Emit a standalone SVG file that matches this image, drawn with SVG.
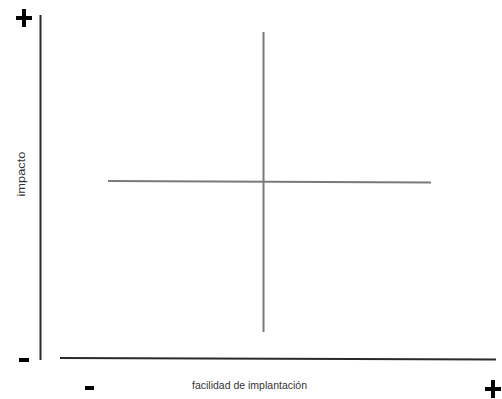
<svg xmlns="http://www.w3.org/2000/svg" width="502" height="399" viewBox="0 0 502 399">
<style>
.axis{stroke:#2a2a2a;stroke-width:2;fill:none}
.cross{stroke:#7a7a7a;stroke-width:2;fill:none}
.sign{fill:#000}
.lbl{font-family:"Liberation Sans",Arial,sans-serif;font-size:10.5px;fill:#333}
</style>
<rect width="502" height="399" fill="#fff"/>
<g id="axes">
<line class="axis" x1="40.5" y1="15" x2="40.5" y2="360"/>
<line class="axis" x1="60" y1="358" x2="496" y2="359.5"/>
</g>
<g id="cross">
<line class="cross" x1="108" y1="181" x2="431" y2="182.5"/>
<line class="cross" x1="263.5" y1="32" x2="263.5" y2="332"/>
</g>
<g id="signs">
<rect class="sign" x="16" y="16" width="16" height="4"/>
<rect class="sign" x="22" y="9" width="4" height="18"/>
<rect class="sign" x="19" y="358" width="10" height="4"/>
<rect class="sign" x="85" y="386" width="9" height="4"/>
<rect class="sign" x="485" y="387" width="16" height="4"/>
<rect class="sign" x="491" y="380" width="4" height="18"/>
</g>
<g id="labels">
<text class="lbl" transform="translate(24.5,174) rotate(-90)" text-anchor="middle" textLength="45" lengthAdjust="spacingAndGlyphs">impacto</text>
<text class="lbl" x="249.5" y="388.5" text-anchor="middle" textLength="115" lengthAdjust="spacingAndGlyphs">facilidad de implantación</text>
</g>
</svg>
